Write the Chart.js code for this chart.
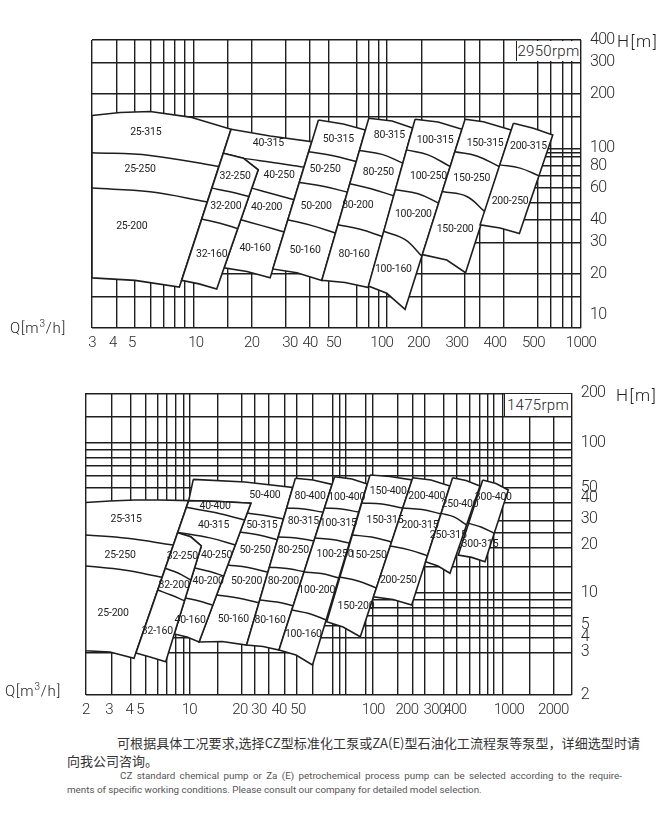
<!DOCTYPE html>
<html>
<head>
<meta charset="utf-8">
<script src="https://cdn.jsdelivr.net/npm/chart.js@4.4.1/dist/chart.umd.min.js"></script>
<style>
  body { margin: 0; background: #fff; width: 667px; height: 817px; position: relative; overflow: hidden;
         font-family: Roboto, 'DejaVu Sans', sans-serif; font-weight: 300; color: #222; }
  canvas { position: absolute; left: 0; }
  #topChart { top: 0; }
  #botChart { top: 362px; }
  .txt { position: absolute; white-space: nowrap; line-height: 1; }
  .rpm { position: absolute; background: #fff; border-left: 1.5px solid #222; box-sizing: border-box;
         font-size: 15px; text-align: center; letter-spacing: 0.3px; }
  .cn { position: absolute; white-space: nowrap; font-family: 'Noto Sans CJK SC', sans-serif; font-weight: 400;
        font-size: 13px; color: #333; line-height: 1; }
  .en { position: absolute; white-space: nowrap; font-family: Roboto, sans-serif; font-weight: 400;
        font-size: 9.8px; color: #555; line-height: 1; }
  .just { text-align: justify; text-align-last: justify; }
</style>
</head>
<body>
<canvas id="topChart" width="667" height="362"></canvas>
<canvas id="botChart" width="667" height="362"></canvas>

<div class="rpm" style="left:516px;top:41px;width:64px;height:20px;line-height:21px;">2950rpm</div>
<div class="rpm" style="left:504px;top:394px;width:67px;height:22px;line-height:23px;">1475rpm</div>

<div class="txt" style="left:617px;top:33px;font-size:17px;letter-spacing:1.5px;">H[m]</div>
<div class="txt" style="left:616px;top:387px;font-size:17px;letter-spacing:1.5px;">H[m]</div>
<div class="txt" style="left:10px;top:319px;font-size:15px;letter-spacing:0.8px;">Q[m<sup style="font-size:10px">3</sup>/h]</div>
<div class="txt" style="left:5px;top:682px;font-size:15px;letter-spacing:0.8px;">Q[m<sup style="font-size:10px">3</sup>/h]</div>

<div class="cn just" style="left:117px;top:736px;width:523px;">可根据具体工况要求,选择CZ型标准化工泵或ZA(E)型石油化工流程泵等泵型，详细选型时请</div>
<div class="cn" style="left:67px;top:754px;">向我公司咨询。</div>
<div class="en just" style="left:120px;top:771px;width:502px;">CZ standard chemical pump or Za (E) petrochemical process pump can be selected according to the require-</div>
<div class="en" style="left:67px;top:785px;">ments of specific working conditions. Please consult our company for detailed model selection.</div>

<script>
// ---------- 2950 rpm chart ----------
const topQMin = 3, topQMax = 1000, topHMin = 10, topHMax = 400;
const topQGrid = [4, 5, 6, 7, 8, 9, 10, 15, 20, 30, 40, 50, 70, 80, 90, 100, 150, 250, 300, 400, 600, 700, 800, 900];
const topHGrid = [15, 20, 30, 40, 50, 60, 70, 80, 90, 95, 100, 150, 200, 300];
const topQTickAt = [3, 3.84, 4.81, 10.3, 20, 31.5, 40, 52.8, 93.8, 145, 229, 360, 568, 1000];
const topQTickText = ['3', '4', '5', '10', '20', '30', '40', '50', '100', '200', '300', '400', '500', '1000'];
const topHTickAt = [400, 300, 200, 100, 80, 60, 40, 30, 20, 11.8];
const topHTickText = ['400', '300', '200', '100', '80', '60', '40', '30', '20', '10'];

// pump families in drawing order: 25, 40, 32, 50, 80, 100, 150, 200  -> [Q, H] outline points
const topOutlines = [
  [[3, 152], [4.19, 158], [5.98, 160], [9.62, 149], [15.65, 127.5], [8.47, 16.9], [5.0, 18.4], [3, 19.0]],
  [[15.65, 127.5], [24.9, 117], [40.8, 108.8], [24.9, 19.0], [18.9, 20.6], [14.4, 21.6], [21.6, 75.8], [18.11, 88.0], [14.28, 93.8]],
  [[14.28, 93.8], [18.11, 88.0], [21.6, 75.8], [13.2, 16.5], [10.7, 17.6], [8.7, 18.4]],
  [[44.2, 143.5], [59.4, 136.4], [77.2, 126.3], [46.0, 18.4], [34.2, 20.3], [25.7, 21.3]],
  [[80.4, 146.7], [106, 141.7], [135.4, 129.6], [80.0, 16.8], [60.6, 17.9], [46.0, 18.4]],
  [[139.3, 144.8], [183.1, 139.9], [243.2, 127.5], [123.7, 12.7], [99.5, 15.6], [80.0, 17.1]],
  [[252.3, 144.8], [313.6, 140.4], [436.5, 126.3], [253.8, 20.3], [203, 23.9], [151.9, 25.6]],
  [[448, 137.6], [568, 129.1], [715, 118.5], [481, 33.5], [382.4, 36.0], [301.5, 37.5]]
];
// impeller size boundaries inside each family (same order)
const topDividers = [
  [[[3, 94.5], [5.98, 91.2], [13.46, 79.1]], [[3, 60], [5.98, 57.2], [11.84, 50.2]]],
  [[[14.11, 90.6], [22.1, 85.3], [37.2, 78.5]], [[20.06, 60.0], [25.5, 55.8], [33.05, 51.7]], [[17.6, 40.0], [22.6, 37.1], [29.4, 34.2]]],
  [[[12.44, 60.0], [15.46, 57.2], [19.39, 53.9]], [[11.04, 40.4], [13.73, 38.3], [16.95, 35.7]]],
  [[[39.3, 95.7], [51.9, 91.2], [69.2, 84.3]], [[35.2, 64.5], [46.7, 61.4], [62.3, 57.0]], [[30.7, 40.0], [41.0, 37.1], [54.1, 33.8]]],
  [[[71.9, 97.0], [94.1, 92.4], [120.3, 82.6]], [[64.1, 63.4], [82.6, 59.5], [108, 54.4]], [[55.7, 37.5], [72.5, 35.4], [94.3, 32.3]]],
  [[[125.8, 97.9], [162.6, 91.8], [211.4, 79.1]], [[110.2, 58.7], [144.4, 55.8], [184.4, 49.5]], [[95.9, 34.5], [123.7, 31.0], [151.0, 25.1]]],
  [[[223.6, 95.7], [290, 90.6], [378.4, 79.1]], [[192.4, 57.4], [257.4, 53.9], [317.8, 44.5]]],
  [[[380.6, 80.8], [485.1, 77.5], [607.2, 70.2]]]
];
const topLabels = [
  ['25-315', 5.68, 122.7], ['25-250', 5.31, 76.5], ['25-200', 4.81, 36.7],
  ['32-250', 16.42, 69.6], ['32-200', 14.7, 47.5], ['32-160', 12.44, 25.6],
  ['40-315', 24.38, 106.6], ['40-250', 27.7, 70.2], ['40-200', 23.9, 47.1], ['40-160', 20.8, 27.9],
  ['50-315', 56.0, 112.2], ['50-250', 47.8, 75.8], ['50-200', 43.0, 47.5], ['50-160', 37.7, 27.0],
  ['80-315', 102.7, 118.5], ['80-250', 90.1, 73.2], ['80-200', 70.5, 47.9], ['80-160', 67.5, 25.6],
  ['100-315', 176.7, 111.2], ['100-250', 163.2, 69.6], ['100-200', 136.5, 42.7], ['100-160', 107.6, 21.1],
  ['150-315', 320.1, 106.6], ['150-250', 273.3, 68.2], ['150-200', 224.1, 35.2],
  ['200-315', 535.3, 102.1], ['200-250', 430.8, 50.6]
];

// ---------- 1475 rpm chart ----------
const botQMin = 2, botQMax = 2611, botHMin = 2.08, botHMax = 213.5;
const botQGrid = [2.94, 3.91, 4.87, 5.76, 6.61, 7.59, 8.45, 9.33, 14.0, 20.0, 24.4, 30.0, 37.5, 45.1, 57.1, 76.2, 84.5, 93.3,
                  125, 138, 200, 250, 296, 392, 478, 576, 668, 755, 829, 943, 1396, 1990];
const botHGrid = [4, 5, 6, 7, 8, 9, 10, 15, 20, 25, 30, 40, 50, 60, 70, 80, 90, 100, 150];
const botQTickAt = [2, 2.82, 3.81, 4.46, 9.23, 19.5, 25.8, 34.7, 45.9, 139.5, 229, 347, 466, 1034, 1989];
const botQTickText = ['2', '3', '4', '5', '10', '20', '30', '40', '50', '100', '200', '300', '400', '1000', '2000'];
const botHTickAt = [213.5, 100, 50, 42.6, 30.9, 20.8, 10, 6.09, 5.04, 4.04, 2.08];
const botHTickText = ['200', '100', '50', '40', '30', '20', '10', '5', '4', '3', '2'];

// drawing order: 25, 50, 40, 32, 80, 100, 150, 200, 250, 300
const botOutlines = [
  [[2, 39.9], [2.86, 40.9], [4.14, 41.5], [5.99, 41.5], [9.15, 41.1], [4.08, 3.65], [2.86, 4.02], [2, 4.1]],
  [[9.79, 57.0], [21.0, 54.7], [42.5, 50.4], [21.5, 4.48], [15.0, 4.73], [10.66, 4.69], [22.9, 39.5], [14.5, 40.6], [9.15, 41.1]],
  [[9.15, 41.1], [14.5, 40.6], [22.9, 39.5], [10.66, 4.69], [8.93, 5.07], [7.39, 5.31], [11.02, 20.5], [9.43, 23.6], [7.77, 25.1]],
  [[7.77, 25.1], [9.43, 23.6], [11.02, 20.5], [6.52, 3.47], [5.17, 3.73], [4.2, 3.96]],
  [[44.2, 57.9], [57.3, 56.4], [75.9, 52.7], [34.7, 4.15], [27.4, 4.38], [21.5, 4.48]],
  [[78.75, 59.3], [101.9, 57.3], [127.6, 53.05], [56.9, 3.3], [44.6, 3.84], [34.7, 4.15]],
  [[133, 60.9], [178.6, 59.5], [247.2, 56.4], [115.2, 5.09], [89.3, 5.91], [70.2, 6.41]],
  [[249.8, 58.4], [327, 56.4], [432, 51.45], [246, 8.28], [186.7, 9.01], [140, 9.4]],
  [[450, 58.4], [548.5, 56.0], [674, 51.45], [433, 13.47], [362.7, 15.07], [302, 16.09]],
  [[702, 56.4], [854, 53.5], [1024, 48.4], [726, 16.1], [596.5, 17.2], [489.4, 17.84]]
];
const botDividers = [
  [[[2, 24.25], [3.7, 23.05], [7.24, 20.8]], [[2, 15.07], [3.52, 14.17], [6.15, 12.67]]],
  [[[21.7, 34.0], [28.2, 32.7], [37.5, 31.0]], [[19.5, 25.4], [25.8, 24.25], [34.1, 22.5]], [[16.3, 15.3], [22.0, 14.7], [29.6, 13.7]], [[13.9, 9.65], [18.95, 9.22], [25.9, 8.54]]],
  [[[8.76, 37.1], [13.5, 34.2], [20.9, 30.5]], [[7.81, 25.2], [12.5, 23.2], [18.2, 20.8]], [[9.97, 14.6], [12.5, 13.85], [15.4, 12.9]], [[8.71, 9.22], [10.66, 8.81], [12.9, 8.28]]],
  [[[6.47, 14.54], [7.81, 13.53], [9.44, 12.15]], [[5.79, 10.42], [7.05, 9.65], [8.6, 8.85]]],
  [[[38.8, 36.7], [50.2, 36.1], [65.7, 34.5]], [[34.2, 23.5], [44.6, 23.2], [58.4, 22.1]], [[30.1, 14.8], [39.0, 14.5], [51.4, 13.74]], [[26.1, 8.94], [33.7, 8.67], [43.75, 8.15]]],
  [[[67.95, 36.7], [87.3, 36.1], [112.7, 34.5]], [[59.0, 23.2], [75.9, 22.6], [98.2, 21.45]], [[50.2, 13.74], [65.0, 13.43], [84.1, 12.53]], [[41.9, 7.67], [54.0, 7.27], [69.9, 6.58]]],
  [[[117.3, 39.6], [158.7, 39.0], [215.4, 36.7]], [[101.6, 24.25], [135.9, 23.5], [182.6, 21.8]], [[84.3, 12.72], [111.4, 11.97], [145.9, 10.75]]],
  [[[215.4, 36.7], [286.6, 35.9], [378.6, 33.5]], [[178.6, 20.5], [236.5, 19.3], [312.1, 17.6]]],
  [[[379.7, 33.8], [459.4, 32.0], [553, 28.3]]],
  [[[570, 29.0], [684.5, 27.4], [832, 24.9]]]
];
const botLabels = [
  ['25-315', 3.63, 31.0], ['25-250', 3.32, 17.8], ['25-200', 3.0, 7.32],
  ['32-250', 8.33, 17.57], ['32-200', 7.37, 11.25], ['32-160', 5.76, 5.5],
  ['40-400', 13.5, 37.8], ['40-315', 13.2, 28.0], ['40-250', 13.8, 17.65], ['40-200', 12.2, 11.84], ['40-160', 9.33, 6.58],
  ['50-400', 28.2, 44.8], ['50-315', 26.9, 28.0], ['50-250', 24.35, 19.05], ['50-200', 21.5, 11.84], ['50-160', 17.7, 6.65],
  ['80-400', 54.9, 44.1], ['80-315', 49.7, 29.7], ['80-250', 42.9, 19.05], ['80-200', 37.0, 11.84], ['80-160', 30.4, 6.51],
  ['100-400', 94.3, 43.25], ['100-315', 83.3, 29.0], ['100-250', 79.3, 18.1], ['100-200', 60.6, 10.3], ['100-160', 49.7, 5.31],
  ['150-400', 174.2, 47.1], ['150-315', 165.9, 30.5], ['150-250', 129.7, 17.8], ['150-200', 108.1, 8.07],
  ['200-400', 307, 44.1], ['200-315', 278, 28.3], ['200-250', 202, 12.15],
  ['250-400', 502, 38.8], ['250-315', 422, 24.25],
  ['300-400', 821, 43.25], ['300-315', 674, 21.1]
];

const INK = '#1e1e1e';
const FAMILY = "Roboto, 'DejaVu Sans', sans-serif";

function toXY(points) {
  return points.map(p => ({ x: p[0], y: p[1] }));
}

function buildChart(canvasId, d) {
  const datasets = [];
  d.outlines.forEach((poly, i) => {
    datasets.push({
      data: toXY(poly.concat([poly[0]])),
      borderColor: INK, borderWidth: 1.6, backgroundColor: '#fff',
      fill: 'shape', tension: 0, pointRadius: 0
    });
    d.dividers[i].forEach(line => {
      datasets.push({
        data: toXY(line),
        borderColor: INK, borderWidth: 1.5, fill: false, tension: 0.4, pointRadius: 0
      });
    });
  });
  // later datasets are drawn on top
  datasets.forEach((ds, i) => { ds.order = -i; });

  // narrow drafting-style lettering for the axis numbers
  const tightText = {
    id: 'tightText',
    beforeDraw(chart) { chart.ctx.letterSpacing = '-0.7px'; }
  };

  // tile names
  const tileNames = {
    id: 'tileNames',
    afterDatasetsDraw(chart) {
      const { ctx, scales } = chart;
      ctx.save();
      ctx.letterSpacing = '-0.2px';
      ctx.font = '400 10.5px ' + FAMILY;
      ctx.fillStyle = INK;
      ctx.textAlign = 'center';
      ctx.textBaseline = 'middle';
      d.labels.forEach(([name, q, h]) => {
        ctx.fillText(name, scales.x.getPixelForValue(q), scales.y.getPixelForValue(h));
      });
      ctx.restore();
    }
  };

  const gridStyle = { color: INK, lineWidth: 1.4, drawTicks: false };
  const noGrid = { display: false, drawTicks: false };

  return new Chart(document.getElementById(canvasId), {
    type: 'line',
    data: { datasets },
    plugins: [tightText, tileNames],
    options: {
      responsive: false,
      animation: false,
      devicePixelRatio: 1,
      layout: { autoPadding: false, padding: d.padding },
      plugins: { legend: { display: false }, tooltip: { enabled: false } },
      scales: {
        x: {
          type: 'logarithmic', position: 'bottom', min: d.qMin, max: d.qMax,
          afterBuildTicks: ax => { ax.ticks = d.qTickAt.map(v => ({ value: v })); },
          afterFit: ax => { ax.height = 28; },
          grid: noGrid, border: { display: false },
          ticks: { autoSkip: false, maxRotation: 0, padding: 6, color: '#2a2a2a',
                   font: { family: FAMILY, size: 15, weight: '300' },
                   callback: (v, i) => d.qTickText[i] }
        },
        xg: {
          type: 'logarithmic', position: 'top', min: d.qMin, max: d.qMax,
          afterBuildTicks: ax => { ax.ticks = [d.qMin, ...d.qGrid, d.qMax].map(v => ({ value: v })); },
          afterFit: ax => { ax.height = 0; },
          grid: gridStyle, border: { display: false }, ticks: { display: false }
        },
        y: {
          type: 'logarithmic', position: 'right', min: d.hMin, max: d.hMax,
          afterBuildTicks: ax => { ax.ticks = d.hTickAt.map(v => ({ value: v })); },
          afterFit: ax => { ax.width = 60; },
          grid: noGrid, border: { display: false },
          ticks: { autoSkip: false, padding: 9, color: '#2a2a2a',
                   font: { family: FAMILY, size: 16, weight: '300' },
                   callback: (v, i) => d.hTickText[i] }
        },
        yg: {
          type: 'logarithmic', position: 'left', min: d.hMin, max: d.hMax,
          afterBuildTicks: ax => { ax.ticks = [d.hMin, ...d.hGrid, d.hMax].map(v => ({ value: v })); },
          afterFit: ax => { ax.width = 0; },
          grid: gridStyle, border: { display: false }, ticks: { display: false }
        }
      }
    }
  });
}

buildChart('topChart', {
  qMin: topQMin, qMax: topQMax, hMin: topHMin, hMax: topHMax,
  qGrid: topQGrid, hGrid: topHGrid,
  qTickAt: topQTickAt, qTickText: topQTickText, hTickAt: topHTickAt, hTickText: topHTickText,
  outlines: topOutlines, dividers: topDividers, labels: topLabels,
  padding: { left: 92, right: 26, top: 40, bottom: 6 }
});

buildChart('botChart', {
  qMin: botQMin, qMax: botQMax, hMin: botHMin, hMax: botHMax,
  qGrid: botQGrid, hGrid: botHGrid,
  qTickAt: botQTickAt, qTickText: botQTickText, hTickAt: botHTickAt, hTickText: botHTickText,
  outlines: botOutlines, dividers: botDividers, labels: botLabels,
  padding: { left: 85.7, right: 35.3, top: 31.3, bottom: 1 }
});
</script>
</body>
</html>
